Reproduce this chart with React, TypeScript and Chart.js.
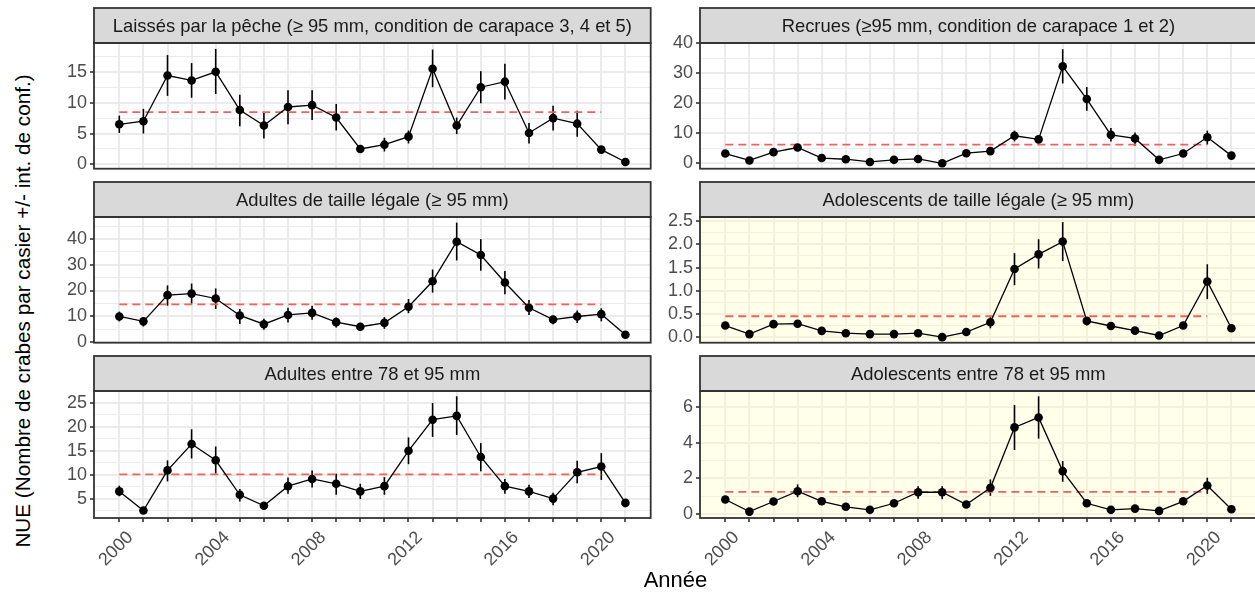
import React, { useEffect, useRef } from "react";
import { Chart, registerables } from "chart.js";

Chart.register(...registerables);

// Survey years and the years that carry a label on the x axis
const years = [
  2000, 2001, 2002, 2003, 2004, 2005, 2006, 2007, 2008, 2009, 2010,
  2011, 2012, 2013, 2014, 2015, 2016, 2017, 2018, 2019, 2020, 2021,
];
const labelledYears = [2000, 2004, 2008, 2012, 2016, 2020];
// Period covered by the reference (mean) line
const referencePeriod = [2000, 2020];

// Laissés par la pêche (>= 95 mm, carapace 3-5)
const laissesValues = [6.5, 7.0, 14.4, 13.6, 15.0, 8.8, 6.3, 9.3, 9.6, 7.6, 2.5, 3.2, 4.5, 15.5, 6.3, 12.5, 13.4, 5.1, 7.5, 6.6, 2.4, 0.4];
const laissesLow = [5.1, 5.0, 11.1, 10.8, 11.4, 6.2, 4.2, 6.5, 7.2, 5.5, 2.1, 2.1, 3.4, 12.5, 4.9, 9.9, 10.5, 3.4, 5.5, 4.5, 1.8, 0.15];
const laissesHigh = [7.9, 9.0, 17.7, 16.4, 18.7, 11.3, 8.5, 12.0, 12.0, 9.8, 2.9, 4.3, 5.5, 18.6, 7.6, 15.1, 16.3, 6.7, 9.5, 8.7, 2.9, 0.65];

// Recrues (>= 95 mm, carapace 1-2)
const recruesValues = [3.3, 1.0, 3.75, 5.3, 1.8, 1.4, 0.5, 1.2, 1.5, 0.05, 3.4, 4.1, 9.2, 8.0, 32.3, 21.4, 9.5, 8.3, 1.2, 3.3, 8.7, 2.6];
const recruesLow = [2.6, 0.7, 3.0, 4.4, 1.4, 1.1, 0.3, 0.9, 1.1, 0.0, 2.7, 3.3, 7.3, 7.0, 26.6, 17.5, 7.3, 5.9, 0.9, 2.6, 6.3, 2.1];
const recruesHigh = [4.0, 1.3, 4.5, 6.2, 2.2, 1.7, 0.7, 1.5, 1.9, 0.1, 4.1, 4.9, 10.9, 9.0, 38.0, 25.4, 11.8, 10.3, 1.5, 4.0, 10.9, 3.1];

// Adultes de taille légale (>= 95 mm)
const adultesLegValues = [9.9, 8.0, 18.2, 18.8, 16.9, 10.3, 6.9, 10.5, 11.3, 7.7, 5.9, 7.4, 13.7, 23.6, 39.0, 33.8, 23.1, 13.3, 8.7, 9.9, 10.8, 2.8];
const adultesLegLow = [8.0, 6.0, 14.1, 14.9, 12.8, 7.0, 4.7, 7.6, 8.6, 5.6, 4.4, 5.1, 11.2, 19.2, 31.7, 27.7, 18.5, 10.5, 6.9, 7.4, 8.0, 2.3];
const adultesLegHigh = [11.8, 9.5, 22.0, 22.7, 20.8, 12.8, 9.0, 13.3, 14.1, 9.5, 7.4, 9.7, 16.7, 28.2, 46.4, 40.0, 27.6, 16.3, 10.3, 12.2, 13.1, 3.3];

// Adolescents de taille légale (>= 95 mm)
const adosLegValues = [0.25, 0.065, 0.28, 0.29, 0.135, 0.085, 0.065, 0.065, 0.085, 0.0, 0.11, 0.32, 1.47, 1.785, 2.06, 0.35, 0.24, 0.14, 0.035, 0.25, 1.2, 0.19];
const adosLegLow = [0.2, 0.03, 0.23, 0.24, 0.1, 0.05, 0.04, 0.04, 0.05, 0.0, 0.07, 0.19, 1.12, 1.48, 1.64, 0.25, 0.19, 0.1, 0.01, 0.2, 0.82, 0.15];
const adosLegHigh = [0.3, 0.1, 0.33, 0.34, 0.17, 0.12, 0.09, 0.09, 0.12, 0.01, 0.15, 0.43, 1.81, 2.11, 2.48, 0.43, 0.29, 0.18, 0.06, 0.3, 1.57, 0.23];

// Adultes entre 78 et 95 mm
const adultesMidValues = [6.5, 2.5, 10.9, 16.4, 13.0, 5.8, 3.5, 7.6, 9.1, 8.1, 6.5, 7.6, 15.0, 21.5, 22.3, 13.7, 7.6, 6.5, 5.0, 10.5, 11.7, 4.1];
const adultesMidLow = [5.5, 2.05, 8.6, 13.4, 10.2, 4.4, 2.7, 6.0, 7.3, 5.8, 4.9, 5.8, 12.2, 17.9, 18.3, 10.7, 6.0, 5.1, 3.6, 8.2, 8.9, 3.2];
const adultesMidHigh = [7.7, 3.0, 13.0, 19.5, 15.9, 7.0, 4.3, 9.4, 10.9, 10.2, 8.1, 9.5, 17.8, 25.0, 26.4, 16.6, 9.1, 7.9, 6.2, 12.9, 14.5, 4.8];

// Adolescents entre 78 et 95 mm
const adosMidValues = [0.81, 0.13, 0.7, 1.28, 0.71, 0.4, 0.23, 0.6, 1.22, 1.22, 0.53, 1.47, 4.87, 5.43, 2.41, 0.6, 0.23, 0.3, 0.17, 0.71, 1.6, 0.26];
const adosMidLow = [0.65, 0.08, 0.57, 0.94, 0.6, 0.32, 0.17, 0.48, 0.85, 0.83, 0.43, 1.02, 3.6, 4.24, 1.81, 0.5, 0.17, 0.22, 0.12, 0.58, 1.13, 0.2];
const adosMidHigh = [0.97, 0.18, 0.83, 1.66, 0.82, 0.48, 0.29, 0.72, 1.56, 1.56, 0.63, 1.94, 6.13, 6.62, 2.98, 0.7, 0.29, 0.38, 0.22, 0.84, 2.04, 0.32];

// Reference level of each panel (mean over the reference period)
const referenceLevels = [8.47, 6.26, 14.6, 0.45, 10.05, 1.24];

// Major y ticks of each panel
const laissesTicks = [0, 5, 10, 15];
const recruesTicks = [0, 10, 20, 30, 40];
const adultesLegTicks = [0, 10, 20, 30, 40];
const adosLegTicks = [0, 0.5, 1, 1.5, 2, 2.5];
const adultesMidTicks = [5, 10, 15, 20, 25];
const adosMidTicks = [0, 2, 4, 6];

const panelTitles = [
  "Laissés par la pêche (≥ 95 mm, condition de carapace 3, 4 et 5)",
  "Recrues (≥95 mm, condition de carapace 1 et 2)",
  "Adultes de taille légale (≥ 95 mm)",
  "Adolescents de taille légale (≥ 95 mm)",
  "Adultes entre 78 et 95 mm",
  "Adolescents entre 78 et 95 mm",
];

const yAxisTitle = "NUE (Nombre de crabes par casier +/- int. de conf.)";
const xAxisTitle = "Année";

const FONT = "'Liberation Sans', Arial, Helvetica, sans-serif";
const TEXT_SIZE = 18;
const STRIP_TEXT_SIZE = 18.4;

type Panel = {
  title: string;
  values: number[];
  low: number[];
  high: number[];
  reference: number;
  majors: number[];
  decimals: number;
  yMin: number;
  yMax: number;
  shaded: boolean;
  col: number;
  row: number;
};

const panels: Panel[] = [
  { title: panelTitles[0], values: laissesValues, low: laissesLow, high: laissesHigh, reference: referenceLevels[0], majors: laissesTicks, decimals: 0, yMin: -0.69, yMax: 19.66, shaded: false, col: 0, row: 0 },
  { title: panelTitles[1], values: recruesValues, low: recruesLow, high: recruesHigh, reference: referenceLevels[1], majors: recruesTicks, decimals: 0, yMin: -1.75, yMax: 40.05, shaded: false, col: 1, row: 0 },
  { title: panelTitles[2], values: adultesLegValues, low: adultesLegLow, high: adultesLegHigh, reference: referenceLevels[2], majors: adultesLegTicks, decimals: 0, yMin: -0.3, yMax: 48.6, shaded: false, col: 0, row: 1 },
  { title: panelTitles[3], values: adosLegValues, low: adosLegLow, high: adosLegHigh, reference: referenceLevels[3], majors: adosLegTicks, decimals: 1, yMin: -0.12, yMax: 2.59, shaded: true, col: 1, row: 1 },
  { title: panelTitles[4], values: adultesMidValues, low: adultesMidLow, high: adultesMidHigh, reference: referenceLevels[4], majors: adultesMidTicks, decimals: 0, yMin: 0.94, yMax: 27.5, shaded: false, col: 0, row: 2 },
  { title: panelTitles[5], values: adosMidValues, low: adosMidLow, high: adosMidHigh, reference: referenceLevels[5], majors: adosMidTicks, decimals: 0, yMin: -0.23, yMax: 6.92, shaded: true, col: 1, row: 2 },
];

// Facet geometry (pixels)
const COL_LEFT = [94, 700];
const PLOT_W = 557;
const ROW_TOP = [43, 217, 391];
const PLOT_H = 127;
const STRIP_H = 35;
const Y_AXIS_W = 54;
const PAD_TOP = 38;
const PAD_RIGHT = 4;
const X_AXIS_H = 62;
const X_MIN = 1998.95;
const X_MAX = 2022.05;

const GRID = "#EBEBEB";
const FRAME = "#333333";

function minorTicks(majors: number[], lo: number, hi: number): number[] {
  const step = majors[1] - majors[0];
  const out: number[] = [];
  for (let v = majors[0] - step / 2; v <= hi; v += step) {
    if (v >= lo && !majors.some((m) => Math.abs(m - v) < 1e-9)) out.push(v);
  }
  return out;
}

function PanelChart({ p }: { p: Panel }) {
  const ref = useRef<HTMLCanvasElement | null>(null);
  const bottomRow = p.row === 2;
  const canvasW = Y_AXIS_W + PLOT_W + PAD_RIGHT;
  const canvasH = PAD_TOP + PLOT_H + (bottomRow ? X_AXIS_H : 3);
  const left = COL_LEFT[p.col] - Y_AXIS_W;
  const top = ROW_TOP[p.row] - PAD_TOP;

  useEffect(() => {
    if (!ref.current) return;
    const minors = minorTicks(p.majors, p.yMin, p.yMax);
    const yTicks = [...p.majors, ...minors].sort((a, b) => a - b);
    const isMajor = (v: number) => p.majors.some((m) => Math.abs(m - v) < 1e-9);

    const decor = {
      id: "facetDecor",
      beforeDatasetsDraw(chart: any) {
        const { ctx, chartArea: a, scales } = chart;
        ctx.save();
        if (p.shaded) {
          ctx.fillStyle = "rgba(255, 255, 190, 0.32)";
          ctx.fillRect(a.left, a.top, a.right - a.left, a.bottom - a.top);
        }
        // confidence intervals
        ctx.strokeStyle = "#000000";
        ctx.lineWidth = 1.6;
        years.forEach((yr, i) => {
          const x = scales.x.getPixelForValue(yr);
          ctx.beginPath();
          ctx.moveTo(x, scales.y.getPixelForValue(p.low[i]));
          ctx.lineTo(x, scales.y.getPixelForValue(p.high[i]));
          ctx.stroke();
        });
        ctx.restore();
      },
      afterDraw(chart: any) {
        const { ctx, chartArea: a } = chart;
        const w = a.right - a.left;
        ctx.save();
        ctx.fillStyle = "#D9D9D9";
        ctx.fillRect(a.left, a.top - STRIP_H, w, STRIP_H);
        ctx.strokeStyle = FRAME;
        ctx.lineWidth = 1.8;
        ctx.strokeRect(a.left, a.top - STRIP_H, w, STRIP_H);
        ctx.strokeRect(a.left, a.top, w, a.bottom - a.top);
        ctx.fillStyle = "#1A1A1A";
        ctx.font = `${STRIP_TEXT_SIZE}px ${FONT}`;
        ctx.textAlign = "center";
        ctx.textBaseline = "middle";
        ctx.fillText(p.title, a.left + w / 2, a.top - STRIP_H / 2 + 1);
        ctx.restore();
      },
    };

    const chart = new Chart(ref.current, {
      type: "line",
      data: {
        datasets: [
          {
            data: years.map((x, i) => ({ x, y: p.values[i] })),
            borderColor: "#000000",
            borderWidth: 1.3,
            pointRadius: 4.3,
            pointBackgroundColor: "#000000",
            pointBorderColor: "#000000",
            pointBorderWidth: 0,
            tension: 0,
          },
          {
            data: referencePeriod.map((x) => ({ x, y: p.reference })),
            borderColor: "#F0605D",
            borderWidth: 1.8,
            borderDash: [8, 5],
            pointRadius: 0,
          },
        ],
      },
      options: {
        animation: false,
        responsive: false,
        events: [],
        layout: { padding: { top: PAD_TOP, right: PAD_RIGHT, bottom: bottomRow ? 0 : 3, left: 0 } },
        plugins: { legend: { display: false }, tooltip: { enabled: false } },
        scales: {
          x: {
            type: "linear",
            min: X_MIN,
            max: X_MAX,
            afterBuildTicks: (s: any) => {
              s.ticks = years.map((v) => ({ value: v }));
            },
            afterFit: (s: any) => {
              s.height = bottomRow ? X_AXIS_H : 0;
              s.paddingLeft = 0;
              s.paddingRight = 0;
            },
            border: { display: false },
            grid: {
              color: GRID,
              lineWidth: 2,
              drawTicks: bottomRow,
              tickLength: 4,
              tickColor: FRAME,
              tickWidth: 1.6,
            },
            ticks: {
              display: bottomRow,
              autoSkip: false,
              minRotation: 45,
              maxRotation: 45,
              padding: 5,
              labelOffset: 11,
              color: "#4D4D4D",
              font: { family: FONT, size: TEXT_SIZE },
              callback: (v: any) => (labelledYears.includes(Number(v)) ? String(v) : ""),
            },
          },
          y: {
            type: "linear",
            min: p.yMin,
            max: p.yMax,
            afterBuildTicks: (s: any) => {
              s.ticks = yTicks.map((v) => ({ value: v }));
            },
            afterFit: (s: any) => {
              s.width = Y_AXIS_W;
              s.paddingTop = 0;
              s.paddingBottom = 0;
            },
            border: { display: false },
            grid: {
              color: GRID,
              lineWidth: (c: any) => (c.tick && isMajor(c.tick.value) ? 2 : 1),
              tickLength: 4,
              tickColor: (c: any) => (c.tick && isMajor(c.tick.value) ? FRAME : "rgba(0,0,0,0)"),
              tickWidth: 1.6,
            },
            ticks: {
              autoSkip: false,
              padding: 3,
              color: "#4D4D4D",
              font: { family: FONT, size: TEXT_SIZE },
              callback: (v: any) => (isMajor(Number(v)) ? Number(v).toFixed(p.decimals) : ""),
            },
          },
        },
      },
      plugins: [decor],
    } as any);
    return () => chart.destroy();
  }, [p]);

  return (
    <canvas
      ref={ref}
      width={canvasW}
      height={canvasH}
      style={{ position: "absolute", left, top, width: canvasW, height: canvasH }}
    />
  );
}

export default function App() {
  return (
    <div
      style={{
        position: "absolute",
        left: 0,
        top: 0,
        width: 1255,
        height: 592,
        overflow: "hidden",
        background: "#FFFFFF",
        fontFamily: FONT,
      }}
    >
      {panels.map((p) => (
        <PanelChart key={p.title} p={p} />
      ))}
      <div
        style={{
          position: "absolute",
          left: 23,
          top: 311,
          transform: "translate(-50%, -50%) rotate(-90deg)",
          whiteSpace: "nowrap",
          fontSize: 20.7,
          lineHeight: 1,
          color: "#000000",
        }}
      >
        {yAxisTitle}
      </div>
      <div
        style={{
          position: "absolute",
          left: 675.5,
          top: 569,
          transform: "translateX(-50%)",
          whiteSpace: "nowrap",
          fontSize: 22,
          lineHeight: 1,
          color: "#000000",
        }}
      >
        {xAxisTitle}
      </div>
    </div>
  );
}
